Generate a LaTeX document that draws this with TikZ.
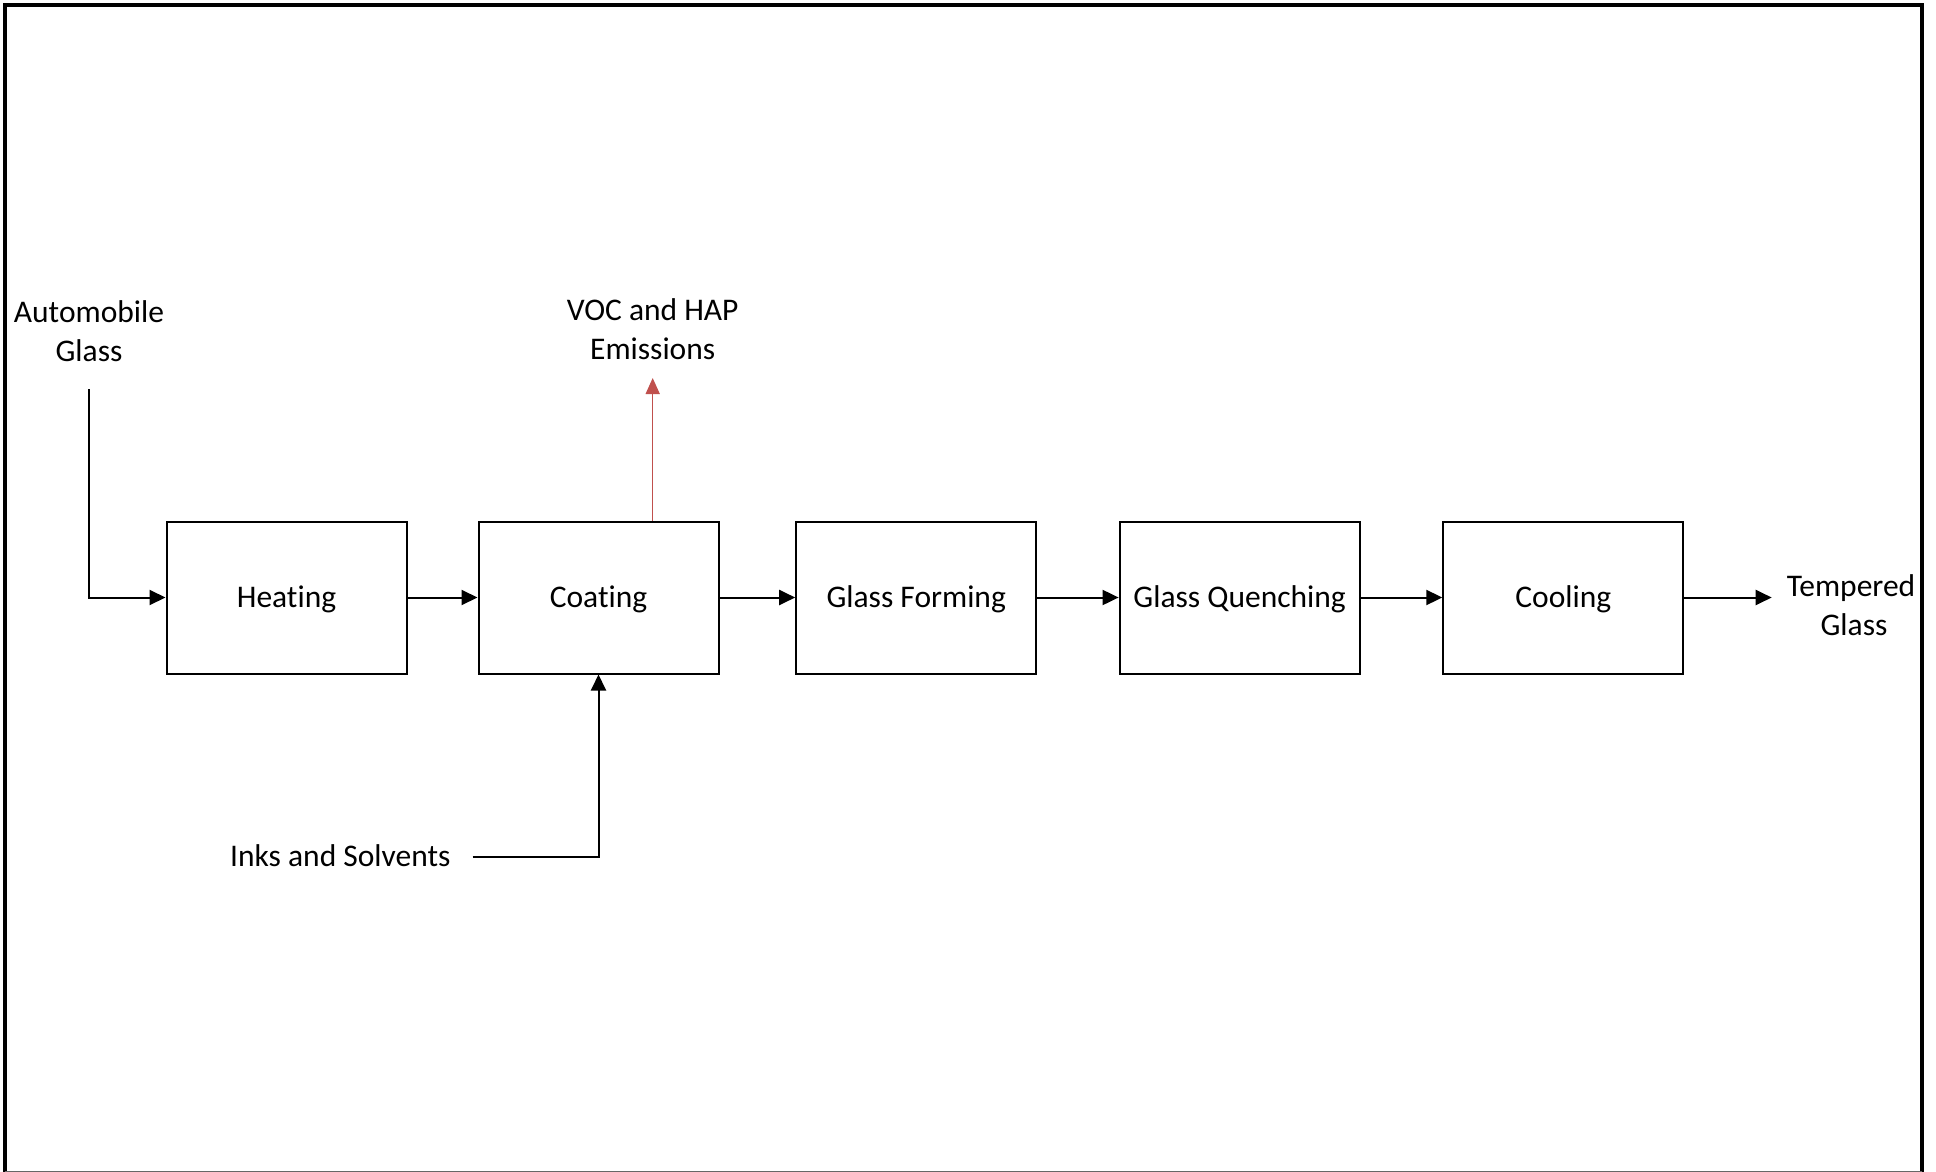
\documentclass[tikz,border=0pt]{standalone}
\usepackage{fontspec}
\setmainfont{Carlito}[Ligatures={NoCommon,NoRequired}]
\usetikzlibrary{arrows.meta}
\definecolor{emisred}{RGB}{192,80,77}
\tikzset{
  procbox/.style={draw=black, line width=2pt, minimum width=240pt, minimum height=152pt, inner sep=0pt, text height=24pt, text depth=4pt, font=\fontsize{31.5}{38.5}\selectfont},
  lbl/.style={inner sep=0pt, align=center, font=\fontsize{31.5}{38.5}\selectfont},
  conn/.style={line width=2pt, -{Triangle[length=16pt,width=15pt]}},
  emis/.style={line width=1.5pt, draw=emisred, -{Triangle[length=16pt,width=14pt,fill=emisred]}},
}
\begin{document}
\begin{tikzpicture}[x=1pt,y=-1pt]
\useasboundingbox (0,0) rectangle (1936,1172);
\fill[white] (0,0) rectangle (1936,1172);
% frame
\draw[line width=4pt] (4.5,1172) -- (4.5,5.5) -- (1922,5.5) -- (1922,1172);
\draw[line width=1pt, black!60] (4.5,1171.3) -- (1922,1171.3);
% process boxes
\node[procbox] (heat)   at (286.5,597.5)  {Heating};
\node[procbox] (coat)   at (598.5,597.5)  {Coating};
\node[procbox] (form)   at (916.2,597.5)  {Glass Forming};
\node[procbox] (quench) at (1239.6,597.5) {Glass Quenching};
\node[procbox] (cool)   at (1563.3,597.5) {Cooling};
% labels
\node[lbl] (auto) at (89,331) {Automobile\\Glass};
\node[lbl] (voc)  at (652.7,329) {VOC and HAP\\Emissions};
\node[lbl, anchor=base west] (inks) at (230,866.7) {Inks and Solvents};
\node[lbl] (temp) at (1851,605) {Tempered\\\hspace*{6pt}Glass};
% free ends
\coordinate (autoend) at (89,389);
\coordinate (voctip)  at (652.7,378);
\coordinate (inksend) at (472.7,857.3);
\coordinate (tempin)  at (1771.7,597.5);
% connectors
\draw[conn] (autoend) |- (heat.west);
\draw[conn] (heat.east) -- (coat.west);
\draw[conn] (coat.east) -- (form.west);
\draw[conn] (form.east) -- (quench.west);
\draw[conn] (quench.east) -- (cool.west);
\draw[conn] (cool.east) -- (tempin);
\draw[conn] (inksend) -| (coat.south);
\draw[emis] (coat.north -| voctip) -- (voctip);
\end{tikzpicture}
\end{document}
